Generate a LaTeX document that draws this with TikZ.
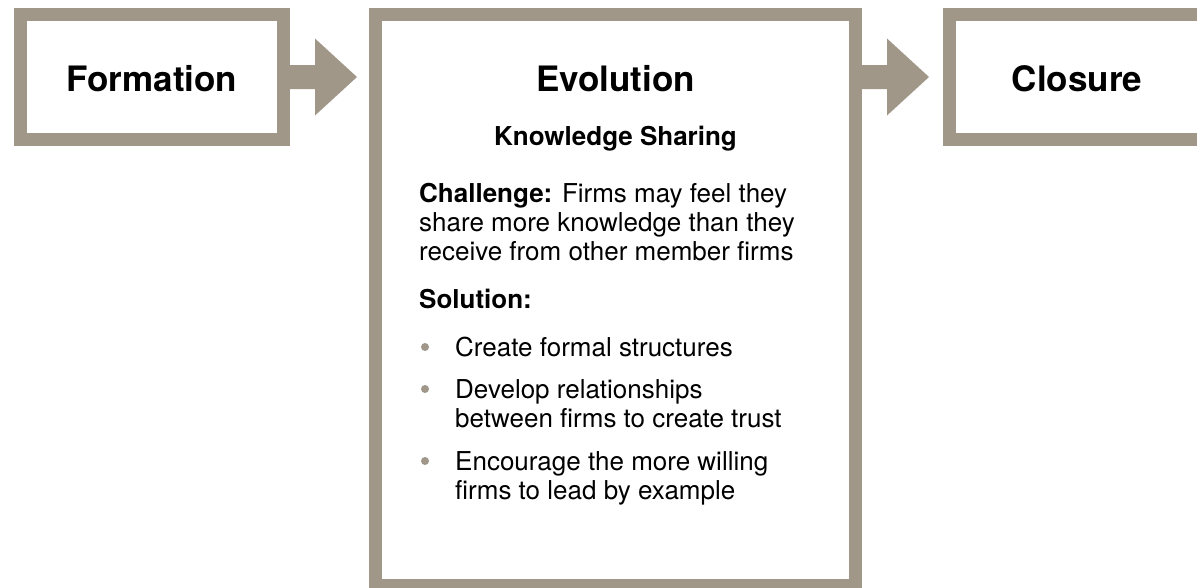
\documentclass[tikz,border=0pt]{standalone}
\usepackage{fontspec}
\setmainfont{TeX Gyre Heros}
\usetikzlibrary{positioning}
\definecolor{taupe}{RGB}{160,151,137}

\tikzset{
  stage/.style={draw=taupe, line width=13pt, fill=white, inner sep=0pt},
  stagetitle/.style={font=\fontsize{35}{40}\selectfont\bfseries, anchor=base, inner sep=0pt},
  bodytext/.style={font=\fontsize{26}{29}\selectfont, anchor=base west, align=left, inner sep=0pt},
  blockarrow/.style={fill=taupe},
  dot/.style={circle, fill=taupe, inner sep=0pt, minimum size=8pt}
}

\begin{document}
\begin{tikzpicture}[x=1pt,y=1pt]
\useasboundingbox (0,0) rectangle (1197,-587);
\clip (0,0) rectangle (1197,-587);

\node[stage, minimum width=263pt, minimum height=125pt] (formation) at (152,-77) {};
\node[stage, minimum width=480pt, minimum height=571pt] (evolution) at (615.5,-300) {};
\node[stage, minimum width=263pt, minimum height=125pt] (closure) at (1081,-77) {};

\fill[blockarrow] ([yshift=12pt]formation.east) -- ++(25,0) -- ++(0,26.5) -- ++(42,-38.5)
  -- ++(-42,-38.5) -- ++(0,26.5) -- ++(-25,0) -- cycle;
\fill[blockarrow] ([yshift=12pt]evolution.east |- closure.west) -- ++(25,0) -- ++(0,26.5) -- ++(42,-38.5)
  -- ++(-42,-38.5) -- ++(0,26.5) -- ++(-25,0) -- cycle;

\node[stagetitle] (formationtitle) at (152,-91) {Formation};
\node[stagetitle] (evolutiontitle) at (615.5,-91) {Evolution};
\node[stagetitle] (closuretitle) at (1077,-91) {Closure};

\node[bodytext, anchor=base, font=\fontsize{26}{29}\selectfont\bfseries] (topic) at (615.5,-145) {Knowledge Sharing};

% multi-line nodes sit on the baseline of their last line
\node[bodytext] (challenge) at (419,-260) {\textbf{Challenge:} Firms may feel they\\share more knowledge than they\\receive from other member firms};
\node[bodytext] (solution) at (419,-308) {\textbf{Solution:}};

\node[dot] (dot1) at (425,-347) {};
\node[bodytext] (item1) at (455,-356) {Create formal structures};
\node[dot] (dot2) at (425,-389) {};
\node[bodytext] (item2) at (455,-427) {Develop relationships\\between firms to create trust};
\node[dot] (dot3) at (425,-461) {};
\node[bodytext] (item3) at (455,-499) {Encourage the more willing\\firms to lead by example};

\end{tikzpicture}
\end{document}
